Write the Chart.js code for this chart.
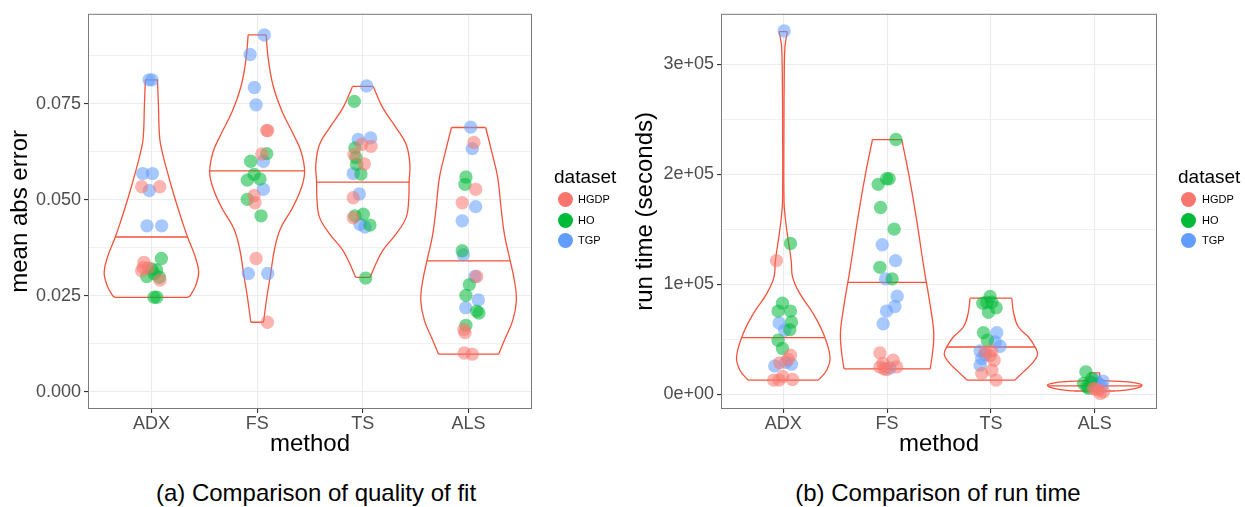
<!DOCTYPE html>
<html>
<head>
<meta charset="utf-8">
<script src="https://cdn.jsdelivr.net/npm/chart.js@4"></script>
<style>
  html, body { margin: 0; padding: 0; background: #fff; }
  body { width: 1245px; height: 507px; position: relative; overflow: hidden;
         font-family: "Liberation Sans", Arial, Helvetica, sans-serif; }
  canvas { position: absolute; top: 0; }
  .legend-title { position: absolute; font-size: 19px; line-height: 19px; color: #000; }
  .key { position: absolute; width: 15px; height: 15px; border-radius: 50%; }
  .key-label { position: absolute; font-size: 11px; line-height: 11px; color: #000; }
  .caption { position: absolute; top: 481px; width: 600px; text-align: center;
             font-size: 24px; line-height: 24px; color: #000; }
</style>
</head>
<body>
<canvas id="fitChart" width="622" height="470" style="left:0px"></canvas>
<canvas id="timeChart" width="623" height="470" style="left:622px"></canvas>
<div id="fitLegend"></div>
<div id="timeLegend"></div>
<div class="caption" style="left:16px">(a) Comparison of quality of fit</div>
<div class="caption" style="left:638px">(b) Comparison of run time</div>

<script>
const methods = ["ADX", "FS", "TS", "ALS"];
const groups = ["HGDP", "HO", "TGP"];
const groupColors = ["#F8766D", "#00BA38", "#619CFF"];
const groupFill = ["rgba(248,118,109,0.55)", "rgba(0,186,56,0.55)", "rgba(97,156,255,0.55)"];
const violinColor = "#f4523b";

// (a) mean abs error -- each point: [method, jitter, value]
const fitHGDP = [
  [1, -0.092, 0.0534], [1, 0.079, 0.0534], [1, -0.07, 0.0337], [1, -0.077, 0.0324], [1, -0.092, 0.0315], [1, 0.081, 0.0291], [1, -0.03, 0.0322],
  [2, 0.091, 0.0680], [2, 0.1, 0.0680], [2, 0.044, 0.0619], [2, -0.029, 0.0511], [2, -0.02, 0.0492], [2, -0.01, 0.0347], [2, 0.097, 0.0181],
  [3, -0.011, 0.0644], [3, 0.077, 0.0639], [3, -0.084, 0.0618], [3, 0.013, 0.0593], [3, -0.091, 0.0505], [3, -0.091, 0.0453],
  [4, 0.051, 0.0649], [4, 0.067, 0.0527], [4, -0.06, 0.0492], [4, 0.077, 0.0300], [4, -0.044, 0.0162], [4, -0.034, 0.0154], [4, -0.041, 0.0101], [4, 0.035, 0.0098]
];
const fitHO = [
  [1, 0.094, 0.0347], [1, 0.003, 0.0320], [1, 0.05, 0.0317], [1, 0.025, 0.0307], [1, -0.044, 0.0300], [1, 0.075, 0.0298], [1, 0.025, 0.0246], [1, 0.05, 0.0246],
  [2, 0.091, 0.0620], [2, -0.061, 0.0600], [2, -0.029, 0.0566], [2, 0.027, 0.0554], [2, -0.093, 0.0551], [2, -0.093, 0.0501], [2, 0.037, 0.0458],
  [3, -0.081, 0.0756], [3, -0.075, 0.0635], [3, -0.065, 0.0610], [3, -0.059, 0.0592], [3, -0.018, 0.0567], [3, 0.004, 0.0462], [3, -0.075, 0.0458], [3, 0.067, 0.0434], [3, 0.027, 0.0296],
  [4, -0.025, 0.0559], [4, -0.034, 0.0540], [4, -0.06, 0.0367], [4, 0.007, 0.0279], [4, -0.025, 0.0251], [4, 0.077, 0.0210], [4, 0.098, 0.0205], [4, -0.025, 0.0173]
];
const fitTGP = [
  [1, -0.023, 0.0812], [1, 0.006, 0.0812], [1, -0.082, 0.0568], [1, 0.009, 0.0568], [1, -0.02, 0.0524], [1, -0.042, 0.0432], [1, 0.097, 0.0432],
  [2, 0.068, 0.0929], [2, -0.067, 0.0878], [2, -0.026, 0.0792], [2, -0.01, 0.0747], [2, 0.059, 0.0600], [2, 0.059, 0.0527], [2, -0.083, 0.0308], [2, 0.1, 0.0308],
  [3, 0.036, 0.0796], [3, -0.044, 0.0657], [3, 0.074, 0.0661], [3, -0.091, 0.0568], [3, -0.034, 0.0515], [3, -0.027, 0.0436], [3, 0.02, 0.0429],
  [4, 0.02, 0.0689], [4, 0.035, 0.0633], [4, 0.067, 0.0482], [4, -0.06, 0.0445], [4, -0.05, 0.0357], [4, 0.06, 0.0300], [4, 0.092, 0.0239], [4, -0.027, 0.0219]
];
// violin outlines: [value, half width in category units], one list per method
const fitShapes = [
  [[0.0246, 0.347], [0.0251, 0.369], [0.0277, 0.419], [0.0312, 0.447], [0.0355, 0.410], [0.0399, 0.347], [0.0442, 0.293], [0.0485, 0.243],
   [0.0528, 0.196], [0.0572, 0.151], [0.0615, 0.110], [0.0658, 0.079], [0.0749, 0.066], [0.0812, 0.057]],
  [[0.0181, 0.06], [0.0252, 0.095], [0.0304, 0.126], [0.0373, 0.166], [0.0425, 0.221], [0.0477, 0.331], [0.0529, 0.416], [0.0573, 0.449],
   [0.0625, 0.416], [0.0668, 0.347], [0.0729, 0.237], [0.0798, 0.15], [0.0869, 0.104], [0.0929, 0.085]],
  [[0.0298, 0.069], [0.0325, 0.11], [0.0368, 0.189], [0.0411, 0.315], [0.0454, 0.41], [0.0497, 0.433], [0.0549, 0.438], [0.0592, 0.445],
   [0.0644, 0.41], [0.0687, 0.315], [0.0739, 0.189], [0.0795, 0.098]],
  [[0.0098, 0.284], [0.0134, 0.339], [0.0186, 0.418], [0.0237, 0.452], [0.0289, 0.434], [0.0350, 0.386], [0.0410, 0.339], [0.0479, 0.307],
   [0.0557, 0.276], [0.0626, 0.218], [0.0688, 0.162]]
];
const fitMedians = [0.0403, 0.0575, 0.0546, 0.0341];
const fitMajorTicks = [0, 0.025, 0.05, 0.075];
const fitTickLabels = ["0.000", "0.025", "0.050", "0.075"];
const fitMinorTicks = [0.0125, 0.0375, 0.0625, 0.0875];

// (b) run time in seconds
const timeHGDP = [
  [1, -0.066, 121400], [1, 0.069, 35300], [1, 0.046, 31400], [1, -0.034, 28400], [1, -0.092, 12700], [1, -0.04, 12700], [1, 0.089, 13300], [1, -0.005, 16000],
  [2, -0.069, 37400], [2, -0.038, 27800], [2, -0.069, 24700], [2, 0.059, 30800], [2, 0.092, 24700], [2, -0.005, 22400], [2, -0.03, 23000],
  [3, -0.056, 38600], [3, 0.009, 39200], [3, 0.031, 30800], [3, -0.088, 18800], [3, 0.009, 21700], [3, 0.05, 12700], [3, -0.008, 35000],
  [4, 0.085, 2100], [4, 0.037, 3600], [4, -0.012, 5200], [4, 0.053, 600], [4, 0.005, 4300]
];
const timeHO = [
  [1, 0.069, 137000], [1, -0.008, 82700], [1, -0.05, 75500], [1, 0.069, 75500], [1, 0.079, 65500], [1, 0.063, 58600], [1, -0.05, 48900], [1, -0.008, 41400],
  [2, 0.085, 231600], [2, -0.005, 195900], [2, 0.02, 195900], [2, -0.086, 190800], [2, -0.063, 169700], [2, 0.068, 150100], [2, -0.069, 115300], [2, 0.049, 104800],
  [3, -0.008, 88800], [3, -0.04, 83600], [3, -0.078, 82700], [3, 0.009, 83600], [3, 0.05, 78500], [3, -0.024, 74500], [3, -0.072, 55900], [3, -0.034, 48900],
  [4, -0.085, 20200], [4, -0.108, 9700], [4, -0.043, 11100], [4, -0.075, 6600], [4, -0.027, 14200], [4, -0.06, 5200]
];
const timeTGP = [
  [1, 0.008, 330300], [1, -0.04, 64600], [1, 0.014, 58000], [1, -0.082, 25600], [1, 0.079, 27200], [1, 0.024, 29000],
  [2, -0.047, 135900], [2, 0.082, 121400], [2, -0.014, 104800], [2, 0.097, 89000], [2, 0.075, 79700], [2, -0.005, 75500], [2, -0.038, 64000], [2, 0.027, 23800],
  [3, 0.057, 55900], [3, 0.041, 47400], [3, 0.089, 43500], [3, -0.104, 39200], [3, -0.088, 32300], [3, -0.104, 26300], [3, -0.056, 36000],
  [4, -0.012, 9700], [4, 0.079, 11800], [4, 0.069, 6600], [4, 0.005, 12700], [4, 0.037, 9700]
];
const timeShapes = [
  [[12700, 0.338], [21700, 0.418], [33800, 0.45], [55000, 0.386], [73100, 0.289], [91200, 0.161], [106200, 0.09], [121400, 0.076],
   [145600, 0.039], [160600, 0.019], [175700, 0.007], [236100, 0.006], [296500, 0.01], [316000, 0.016], [324000, 0.028], [329700, 0.039]],
  [[22900, 0.415], [36900, 0.437], [55000, 0.45], [79100, 0.418], [115300, 0.354], [160600, 0.281], [199900, 0.209], [231600, 0.141]],
  [[12700, 0.231], [20200, 0.313], [29300, 0.41], [36200, 0.45], [42800, 0.426], [51900, 0.362], [61000, 0.265], [73100, 0.22], [87200, 0.201]],
  [[2800, 0.2], [4000, 0.33], [6000, 0.43], [8200, 0.455], [10000, 0.40], [11500, 0.25], [12500, 0.08], [15000, 0.05], [19300, 0.048]]
];
const timeMedians = [51300, 101700, 42800, 7500];
const timeMajorTicks = [0, 100000, 200000, 300000];
const timeTickLabels = ["0e+00", "1e+05", "2e+05", "3e+05"];
const timeMinorTicks = [50000, 150000, 250000];

const FONT = "'Liberation Sans', Arial, Helvetica, sans-serif";

function halfWidthAt(shape, v) {
  for (let i = 0; i < shape.length - 1; i++) {
    const [v0, w0] = shape[i], [v1, w1] = shape[i + 1];
    if (v >= v0 && v <= v1) return w0 + (w1 - w0) * (v - v0) / (v1 - v0);
  }
  return 0;
}

function pointSet(points, g) {
  return {
    label: groups[g],
    data: points.map(([m, j, v]) => ({ x: m + j, y: v })),
    backgroundColor: groupFill[g],
    borderWidth: 0,
    pointRadius: 6.7,
    pointHoverRadius: 6.7
  };
}

function lineSet(data, tension) {
  return {
    data, showLine: true, tension,
    borderColor: violinColor, borderWidth: 1.3,
    pointRadius: 0, pointHoverRadius: 0, fill: false
  };
}

function violinSets(shapes, medians) {
  const sets = [];
  shapes.forEach((shape, k) => {
    const m = k + 1;
    const lo = shape[0], hi = shape[shape.length - 1];
    const mw = halfWidthAt(shape, medians[k]);
    sets.push(lineSet(shape.map(([v, w]) => ({ x: m + w, y: v })), 0.4));
    sets.push(lineSet(shape.map(([v, w]) => ({ x: m - w, y: v })), 0.4));
    sets.push(lineSet([
      { x: m - lo[1], y: lo[0] }, { x: m + lo[1], y: lo[0] }, { x: null, y: null },
      { x: m - hi[1], y: hi[0] }, { x: m + hi[1], y: hi[0] }, { x: null, y: null },
      { x: m - mw, y: medians[k] }, { x: m + mw, y: medians[k] }
    ], 0));
  });
  return sets;
}

const panelBorder = {
  id: "panelBorder",
  afterDraw(chart) {
    const { ctx, chartArea: a } = chart;
    ctx.save();
    ctx.strokeStyle = "#7a7a7a";
    ctx.lineWidth = 1;
    ctx.strokeRect(a.left + 0.5, a.top + 0.5, a.right - a.left - 1, a.bottom - a.top - 1);
    ctx.restore();
  }
};

function makeChart(id, opts) {
  const allTicks = opts.major.concat(opts.minor).sort((a, b) => a - b);
  return new Chart(document.getElementById(id), {
    type: "scatter",
    data: {
      datasets: [
        pointSet(opts.points[0], 0), pointSet(opts.points[1], 1), pointSet(opts.points[2], 2),
        ...violinSets(opts.shapes, opts.medians)
      ]
    },
    options: {
      responsive: false,
      animation: false,
      devicePixelRatio: 1,
      layout: { padding: { top: 12, right: opts.padRight, left: 0, bottom: 0 } },
      plugins: { legend: { display: false }, tooltip: { enabled: false } },
      scales: {
        x: {
          type: "linear", min: 0.4, max: 4.6,
          afterBuildTicks: s => { s.ticks = methods.map((_, i) => ({ value: i + 1 })); },
          afterFit: s => { s.height = 61; },
          border: { display: false },
          grid: { color: "#ebebeb", lineWidth: 1.1, tickLength: 4, tickColor: "#333" },
          ticks: {
            autoSkip: false, maxRotation: 0, padding: 0,
            color: "#4d4d4d", font: { family: FONT, size: 18 },
            callback: v => methods[v - 1]
          },
          title: { display: true, text: "method", color: "#000",
                   font: { family: FONT, size: 24 }, padding: { top: 0, bottom: 11 } }
        },
        y: {
          type: "linear", min: opts.yMin, max: opts.yMax,
          afterBuildTicks: s => { s.ticks = allTicks.map(v => ({ value: v })); },
          afterFit: s => { s.width = opts.axisWidth; },
          border: { display: false },
          grid: {
            color: "#ebebeb", tickLength: 4,
            lineWidth: c => opts.major.includes(c.tick.value) ? 1.1 : 0.7,
            tickColor: c => opts.major.includes(c.tick.value) ? "#333" : "rgba(0,0,0,0)"
          },
          ticks: {
            autoSkip: false, padding: 3,
            color: "#4d4d4d", font: { family: FONT, size: 18 },
            callback: v => {
              const i = opts.major.indexOf(v);
              return i >= 0 ? opts.labels[i] : "";
            }
          },
          title: { display: true, text: opts.yTitle, color: "#000",
                   font: { family: FONT, size: 24 }, padding: { top: opts.titlePad, bottom: 0 } }
        }
      }
    },
    plugins: [panelBorder]
  });
}

makeChart("fitChart", {
  points: [fitHGDP, fitHO, fitTGP], shapes: fitShapes, medians: fitMedians,
  major: fitMajorTicks, minor: fitMinorTicks, labels: fitTickLabels,
  yMin: -0.00448, yMax: 0.0984, yTitle: "mean abs error",
  axisWidth: 88, padRight: 90, titlePad: 6
});

makeChart("timeChart", {
  points: [timeHGDP, timeHO, timeTGP], shapes: timeShapes, medians: timeMedians,
  major: timeMajorTicks, minor: timeMinorTicks, labels: timeTickLabels,
  yMin: -13600, yMax: 346000, yTitle: "run time (seconds)",
  axisWidth: 99, padRight: 88, titlePad: 9
});

// legends, one per panel
function buildLegend(id, titleLeft, keyX, labelX) {
  const box = document.getElementById(id);
  const keyY = [199, 220.7, 240.7];
  let html = `<div class="legend-title" style="left:${titleLeft}px;top:167px">dataset</div>`;
  groups.forEach((g, i) => {
    html += `<div class="key" style="left:${keyX - 7.5}px;top:${keyY[i] - 7.5}px;background:${groupColors[i]}"></div>`;
    html += `<div class="key-label" style="left:${labelX}px;top:${keyY[i] - 5.5}px">${g}</div>`;
  });
  box.innerHTML = html;
}
buildLegend("fitLegend", 554, 565, 578);
buildLegend("timeLegend", 1178, 1188, 1202);
</script>
</body>
</html>
